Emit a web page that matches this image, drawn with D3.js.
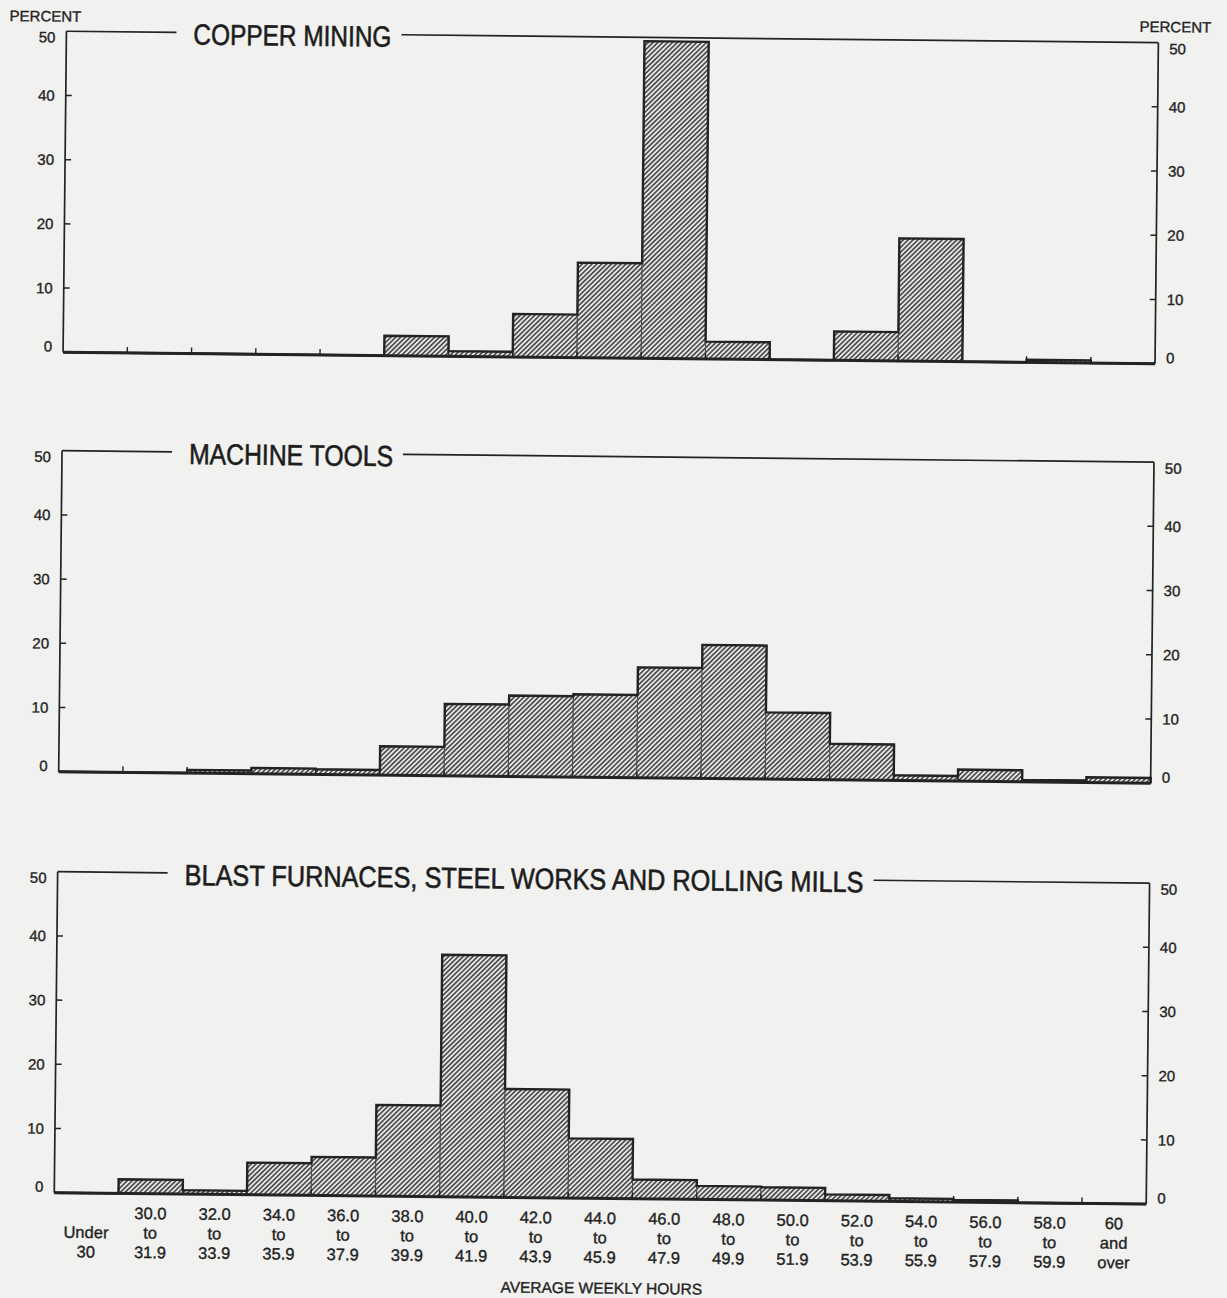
<!DOCTYPE html>
<html><head><meta charset="utf-8">
<script src="https://cdn.jsdelivr.net/npm/d3@7"></script>
<style>
body{margin:0;background:#f1f1ef;}
svg{display:block;}
text{stroke:#232323;stroke-width:0.35px;}
text.title{stroke-width:0.6px;}
</style>
</head><body>
<svg id="chart" width="1227" height="1298"></svg>
<script>
// ---------------- DATA ----------------
const categories = ["Under 30","30.0-31.9","32.0-33.9","34.0-35.9","36.0-37.9","38.0-39.9","40.0-41.9","42.0-43.9","44.0-45.9","46.0-47.9","48.0-49.9","50.0-51.9","52.0-53.9","54.0-55.9","56.0-57.9","58.0-59.9","60 and over"];
const categoryLabelLines = [["","Under","30"],["30.0","to","31.9"],["32.0","to","33.9"],["34.0","to","35.9"],["36.0","to","37.9"],["38.0","to","39.9"],["40.0","to","41.9"],["42.0","to","43.9"],["44.0","to","45.9"],["46.0","to","47.9"],["48.0","to","49.9"],["50.0","to","51.9"],["52.0","to","53.9"],["54.0","to","55.9"],["56.0","to","57.9"],["58.0","to","59.9"],["60","and","over"]];
const copperMining  = [0, 0, 0, 0, 0, 3.1, 0.8, 6.7, 14.8, 49.4, 2.7, 0, 4.5, 19.1, 0, 0.4, 0];
const machineTools  = [0, 0, 0.5, 0.9, 0.8, 4.5, 11.2, 12.6, 12.9, 17.2, 20.8, 10.4, 5.6, 0.8, 1.8, 0.3, 0.8];
const blastFurnaces = [0, 2.2, 0.6, 5.0, 6.0, 14.2, 37.7, 16.9, 9.3, 3.0, 2.1, 2.0, 1.0, 0.5, 0.35, 0, 0];
const panelTitles = ["COPPER MINING", "MACHINE TOOLS", "BLAST FURNACES, STEEL WORKS AND ROLLING MILLS"];
const yTickValues = [0, 10, 20, 30, 40, 50];
const yAxisTitle = "PERCENT";
const xAxisTitle = "AVERAGE WEEKLY HOURS";

// ---------------- LAYOUT ----------------
const svg = d3.select("#chart");
const defs = svg.append("defs");
const hatch = defs.append("pattern")
  .attr("id", "hatch").attr("patternUnits", "userSpaceOnUse")
  .attr("width", 3.4).attr("height", 3.4)
  .attr("patternTransform", "rotate(45)");
hatch.append("rect").attr("width", 3.4).attr("height", 3.4).attr("fill", "#e6e6e4");
hatch.append("line").attr("x1", 0.8).attr("y1", -1).attr("x2", 0.8).attr("y2", 5)
  .attr("stroke", "#3c3c3c").attr("stroke-width", 1.5);

const root = svg.append("g").attr("transform", "rotate(0.6 613 649)");

const X0 = 60, X1 = 1152;
const x = d3.scaleBand().domain(categories).range([X0, X1]).paddingInner(0).paddingOuter(0);
const panelTops = [37, 456.5, 877.5];
const panelH = 321;
const titleWidths = [198, 204, 679];
const seriesList = [copperMining, machineTools, blastFurnaces];
const ink = "#232323";
const labelFont = "'Liberation Sans', Arial, sans-serif";

seriesList.forEach((vals, p) => {
  const top = panelTops[p];
  const y = d3.scaleLinear().domain([0, 50]).range([top + panelH, top]);
  const g = root.append("g");
  const y0 = y(0);

  // bars
  g.selectAll("rect.bar").data(categories.map((c, i) => ({c, v: vals[i]})).filter(d => d.v > 0))
    .enter().append("rect").attr("class", "bar")
    .attr("x", d => x(d.c)).attr("width", x.bandwidth())
    .attr("y", d => y(d.v)).attr("height", d => y0 - y(d.v))
    .attr("fill", "url(#hatch)").attr("stroke", "#4a4a4a").attr("stroke-width", 1);

  // histogram outline (steps)
  const pts = [[X0, y0]];
  categories.forEach((c, i) => {
    pts.push([x(c), y(vals[i])]);
    pts.push([x(c) + x.bandwidth(), y(vals[i])]);
  });
  pts.push([X1, y0]);
  g.append("path").attr("d", d3.line()(pts)).attr("fill", "none")
    .attr("stroke", ink).attr("stroke-width", 2.4).attr("stroke-linejoin", "miter");

  // baseline
  g.append("line").attr("x1", X0).attr("x2", X1).attr("y1", y0).attr("y2", y0)
    .attr("stroke", ink).attr("stroke-width", 3);
  // bin boundary ticks on the baseline
  g.selectAll("line.bt").data(categories.slice(1)).enter().append("line")
    .attr("x1", d => x(d)).attr("x2", d => x(d)).attr("y1", y0 - 6).attr("y2", y0)
    .attr("stroke", ink).attr("stroke-width", 1.4);

  // side axes
  [X0, X1].forEach(xx => g.append("line").attr("x1", xx).attr("x2", xx)
    .attr("y1", y(50)).attr("y2", y0).attr("stroke", ink).attr("stroke-width", 1.7));

  // axis ticks (inner)
  const inner = yTickValues.filter(v => v > 0 && v < 50);
  g.selectAll("line.lt").data(inner).enter().append("line")
    .attr("x1", X0).attr("x2", X0 + 6).attr("y1", d => y(d)).attr("y2", d => y(d))
    .attr("stroke", ink).attr("stroke-width", 1.5);
  g.selectAll("line.rt").data(inner).enter().append("line")
    .attr("x1", X1 - 6).attr("x2", X1).attr("y1", d => y(d)).attr("y2", d => y(d))
    .attr("stroke", ink).attr("stroke-width", 1.5);

  // axis labels
  const off = v => v === 50 ? 6 : (v === 0 ? -6 : 0);
  g.selectAll("text.ll").data(yTickValues).enter().append("text")
    .attr("x", X0 - 11).attr("y", d => y(d) + off(d)).attr("dy", "0.36em")
    .attr("text-anchor", "end").attr("font-family", labelFont).attr("font-size", 15)
    .attr("fill", ink).text(d => d);
  g.selectAll("text.rl").data(yTickValues).enter().append("text")
    .attr("x", X1 + 11).attr("y", d => y(d) + off(d)).attr("dy", "0.36em")
    .attr("text-anchor", "start").attr("font-family", labelFont).attr("font-size", 15)
    .attr("fill", ink).text(d => d);

  // title and top frame line with gap
  const tx = 187;
  const tw = titleWidths[p];
  g.append("text").attr("class", "title").attr("x", tx).attr("y", top + 12)
    .attr("font-family", labelFont).attr("font-size", 29)
    .attr("textLength", tw).attr("lengthAdjust", "spacingAndGlyphs")
    .attr("fill", "#1c1c1c").text(panelTitles[p]);
  g.append("line").attr("x1", X0).attr("x2", tx - 17).attr("y1", top).attr("y2", top)
    .attr("stroke", ink).attr("stroke-width", 1.7);
  g.append("line").attr("x1", tx + tw + 10).attr("x2", X1).attr("y1", top).attr("y2", top)
    .attr("stroke", ink).attr("stroke-width", 1.7);
});

// PERCENT labels
root.append("text").attr("x", 3).attr("y", 22).attr("dy", "0.36em")
  .attr("font-family", labelFont).attr("font-size", 15).attr("fill", ink).text(yAxisTitle);
root.append("text").attr("x", 1133).attr("y", 21).attr("dy", "0.36em")
  .attr("font-family", labelFont).attr("font-size", 15).attr("fill", ink).text(yAxisTitle);

// category labels
const lineYs = [1218, 1237.5, 1257];
categories.forEach((c, i) => {
  categoryLabelLines[i].forEach((s, k) => {
    if (!s) return;
    root.append("text").attr("x", x(c) + x.bandwidth() / 2).attr("y", lineYs[k]).attr("dy", "0.36em")
      .attr("text-anchor", "middle").attr("font-family", labelFont).attr("font-size", 16.5)
      .attr("fill", ink).text(s);
  });
});

root.append("text").attr("x", 608).attr("y", 1288).attr("dy", "0.36em")
  .attr("text-anchor", "middle").attr("font-family", labelFont).attr("font-size", 15.5)
  .attr("fill", ink).text(xAxisTitle);
</script>
</body></html>
